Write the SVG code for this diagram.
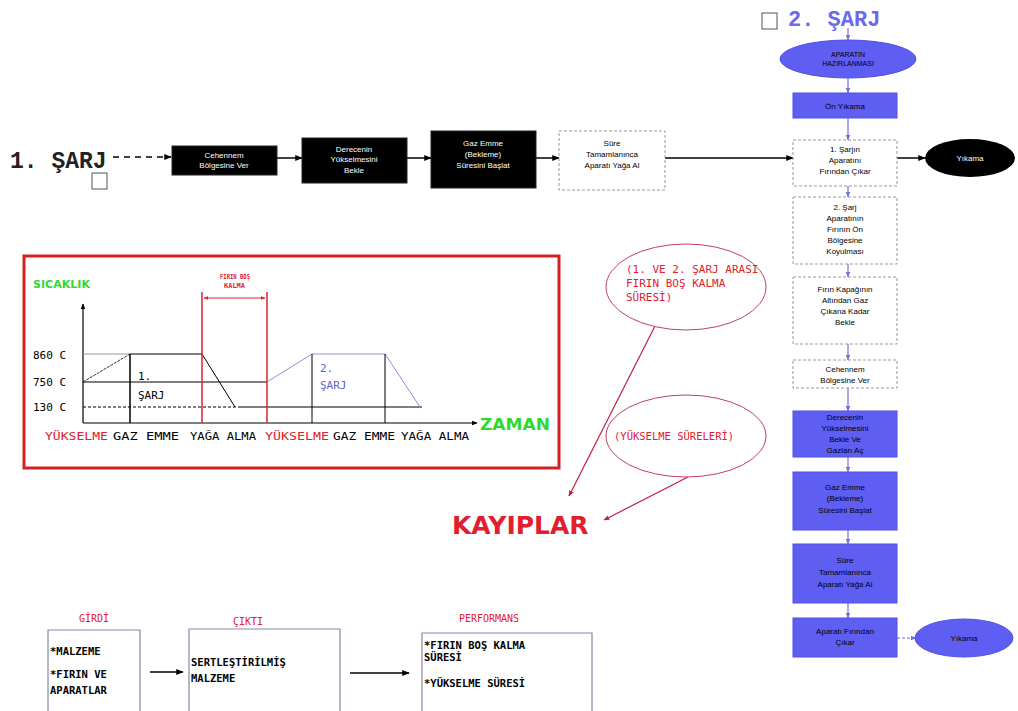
<svg xmlns="http://www.w3.org/2000/svg" width="1018" height="711" viewBox="0 0 1018 711">
<defs>
<marker id="ah" viewBox="0 0 10 10" refX="9" refY="5" markerWidth="5" markerHeight="5" orient="auto"><path d="M0,1 L10,5 L0,9 z" fill="#000"/></marker>
<marker id="ahb" viewBox="0 0 10 10" refX="9" refY="5" markerWidth="5" markerHeight="5" orient="auto"><path d="M0,1 L10,5 L0,9 z" fill="#7070e0"/></marker>
<marker id="ahr" viewBox="0 0 10 10" refX="9" refY="5" markerWidth="5" markerHeight="5" orient="auto"><path d="M0,1 L10,5 L0,9 z" fill="#c02040"/></marker>
<marker id="ahr2" viewBox="0 0 10 10" refX="9" refY="5" markerWidth="4" markerHeight="4" orient="auto-start-reverse"><path d="M0,1 L10,5 L0,9 z" fill="#e02030"/></marker>
</defs>
<style>
.t{font-family:"Liberation Sans",Arial,sans-serif;font-size:8px;text-anchor:middle}
.w{fill:#fff}
.k{fill:#000}
.blk{fill:#000;stroke:#222;stroke-width:1}
.dsh{fill:#fff;stroke:#999;stroke-width:1;stroke-dasharray:3,2}
.blu{fill:#5e5ef2;stroke:#5050e0;stroke-width:1}
.bc{stroke:#7070e0;stroke-width:1.2;fill:none;marker-end:url(#ahb)}
.kc{stroke:#000;stroke-width:1.5;fill:none;marker-end:url(#ah)}
.mono{font-family:"Liberation Mono","DejaVu Sans Mono",monospace;font-weight:bold}
.cl{font-family:"DejaVu Sans Mono",monospace}
.red{fill:#e0202e}
.grn{fill:#30d830}
.sm{font-family:"DejaVu Sans Mono",monospace;font-weight:bold}
.bd{font-family:"DejaVu Sans",sans-serif;font-weight:bold}
</style>
<rect width="1018" height="711" fill="#fff"/>

<g id="title1">
<text x="10" y="168" class="mono" font-size="23" fill="#222">1. ŞARJ</text>
<rect x="92" y="173" width="15" height="16" fill="#fff" stroke="#555" stroke-width="1"/>
</g>
<g id="title2">
<text x="788" y="26" class="mono" font-size="22" fill="#6a6af0">2. ŞARJ</text>
<rect x="762" y="13" width="15" height="16" fill="#fff" stroke="#555" stroke-width="1"/>
</g>

<g id="connectors">
<line x1="113" y1="157" x2="171" y2="157" stroke="#000" stroke-width="1.5" stroke-dasharray="6,5" marker-end="url(#ah)"/>
<line x1="277" y1="158" x2="302" y2="158" class="kc"/>
<line x1="407" y1="158" x2="431" y2="158" class="kc"/>
<line x1="536" y1="158" x2="559" y2="158" class="kc"/>
<line x1="665" y1="158" x2="793" y2="158" class="kc"/>
<line x1="897" y1="158" x2="925" y2="158" class="kc"/>
<line x1="848" y1="28" x2="848" y2="40" class="bc"/>
<line x1="848" y1="78" x2="848" y2="93" class="bc"/>
<line x1="848" y1="118" x2="848" y2="140" class="bc"/>
<line x1="848" y1="186" x2="848" y2="197" class="bc"/>
<line x1="848" y1="264" x2="848" y2="277" class="bc"/>
<line x1="848" y1="344" x2="848" y2="360" class="bc"/>
<line x1="848" y1="388" x2="848" y2="411" class="bc"/>
<line x1="848" y1="457" x2="848" y2="472" class="bc"/>
<line x1="848" y1="530" x2="848" y2="544" class="bc"/>
<line x1="848" y1="603" x2="848" y2="618" class="bc"/>
<line x1="897" y1="638" x2="916" y2="638" stroke="#7070e0" stroke-width="1.2" stroke-dasharray="3,2" marker-end="url(#ahb)"/>
<line x1="655" y1="326" x2="569" y2="496" stroke="#c02040" stroke-width="1.2" marker-end="url(#ahr)"/>
<line x1="688" y1="477" x2="604" y2="520" stroke="#c02040" stroke-width="1.2" marker-end="url(#ahr)"/>
<line x1="150" y1="672" x2="183" y2="672" class="kc" stroke-width="1"/>
<line x1="350" y1="673" x2="409" y2="673" class="kc" stroke-width="1"/>
</g>

<g id="n1"><rect x="172" y="146" width="105" height="29" class="blk"/>
<text class="t w" x="224" y="158">Cehennem</text><text class="t w" x="224" y="168">Bölgesine Ver</text></g>
<g id="n2"><rect x="302" y="138" width="105" height="45" class="blk"/>
<text class="t w" x="354" y="152">Derecenin</text><text class="t w" x="354" y="162">Yükselmesini</text><text class="t w" x="354" y="173">Bekle</text></g>
<g id="n3"><rect x="431" y="131" width="105" height="57" class="blk"/>
<text class="t w" x="483" y="146">Gaz Emme</text><text class="t w" x="483" y="157">(Bekleme)</text><text class="t w" x="483" y="168">Süresini Başlat</text></g>
<g id="n4"><rect x="559" y="131" width="106" height="59" class="dsh"/>
<text class="t k" x="612" y="146">Süre</text><text class="t k" x="612" y="157">Tamamlanınca</text><text class="t k" x="612" y="168">Aparatı Yağa Al</text></g>

<g id="r0"><ellipse cx="848" cy="59" rx="68" ry="19" fill="#5e5ef2" stroke="#5050e0"/>
<text class="t k" x="848" y="57" style="font-size:7px">APARATIN</text><text class="t k" x="848" y="66" style="font-size:7px">HAZIRLANMASI</text></g>
<g id="r1"><rect x="793" y="93" width="104" height="25" class="blu"/>
<text class="t k" x="845" y="109">Ön Yıkama</text></g>
<g id="r2"><rect x="793" y="140" width="104" height="46" class="dsh"/>
<text class="t k" x="845" y="152">1. Şarjın</text><text class="t k" x="845" y="163">Aparatını</text><text class="t k" x="845" y="174">Fırından Çıkar</text></g>
<g id="r2b"><ellipse cx="970" cy="158" rx="45" ry="19" fill="#000"/>
<text class="t w" x="970" y="161">Yıkama</text></g>
<g id="r3"><rect x="793" y="197" width="104" height="67" class="dsh"/>
<text class="t k" x="845" y="210">2. Şarj</text><text class="t k" x="845" y="221">Aparatının</text><text class="t k" x="845" y="232">Fırının Ön</text><text class="t k" x="845" y="243">Bölgesine</text><text class="t k" x="845" y="254">Koyulması</text></g>
<g id="r4"><rect x="793" y="277" width="104" height="67" class="dsh"/>
<text class="t k" x="845" y="292">Fırın Kapağının</text><text class="t k" x="845" y="303">Altından Gaz</text><text class="t k" x="845" y="314">Çıkana Kadar</text><text class="t k" x="845" y="325">Bekle</text></g>
<g id="r5"><rect x="793" y="360" width="104" height="28" class="dsh"/>
<text class="t k" x="845" y="372">Cehennem</text><text class="t k" x="845" y="383">Bölgesine Ver</text></g>
<g id="r6"><rect x="793" y="411" width="104" height="46" class="blu"/>
<text class="t k" x="845" y="420">Derecenin</text><text class="t k" x="845" y="431">Yükselmesini</text><text class="t k" x="845" y="442">Bekle Ve</text><text class="t k" x="845" y="453">Gazları Aç</text></g>
<g id="r7"><rect x="793" y="472" width="104" height="58" class="blu"/>
<text class="t k" x="845" y="490">Gaz Emme</text><text class="t k" x="845" y="501">(Bekleme)</text><text class="t k" x="845" y="513">Süresini Başlat</text></g>
<g id="r8"><rect x="793" y="544" width="104" height="59" class="blu"/>
<text class="t k" x="845" y="563">Süre</text><text class="t k" x="845" y="575">Tamamlanınca</text><text class="t k" x="845" y="587">Aparatı Yağa Al</text></g>
<g id="r9"><rect x="793" y="618" width="104" height="39" class="blu"/>
<text class="t k" x="845" y="634">Aparatı Fırından</text><text class="t k" x="845" y="645">Çıkar</text></g>
<g id="r9b"><ellipse cx="964" cy="638" rx="49" ry="19" fill="#5e5ef2" stroke="#5050e0"/>
<text class="t k" x="964" y="641">Yıkama</text></g>

<g id="chart">
<rect x="24" y="256" width="535" height="212" fill="#fff" stroke="#d42020" stroke-width="3"/>
<text x="33" y="288" class="bd grn" font-size="11" textLength="57" lengthAdjust="spacingAndGlyphs">SICAKLIK</text>
<line x1="83" y1="423" x2="83" y2="304" stroke="#000" stroke-width="1.2" marker-end="url(#ah)"/>
<line x1="83" y1="423" x2="477" y2="423" stroke="#000" stroke-width="1.2" marker-end="url(#ah)"/>
<text x="480" y="430" class="bd grn" font-size="15" textLength="70" lengthAdjust="spacingAndGlyphs">ZAMAN</text>
<text x="33" y="359" class="cl" font-size="11">860 C</text>
<text x="33" y="386" class="cl" font-size="11">750 C</text>
<text x="33" y="411" class="cl" font-size="11">130 C</text>
<line x1="83" y1="354" x2="130" y2="354" stroke="#999" stroke-width="1"/>
<line x1="130" y1="354" x2="202" y2="354" stroke="#000" stroke-width="1"/>
<line x1="83" y1="382" x2="130" y2="354" stroke="#333" stroke-width="1" stroke-dasharray="3,1"/>
<line x1="130" y1="354" x2="130" y2="423" stroke="#000" stroke-width="1.5"/>
<line x1="202" y1="354" x2="235" y2="407" stroke="#000" stroke-width="1"/>
<line x1="83" y1="382" x2="267" y2="382" stroke="#000" stroke-width="1"/>
<line x1="83" y1="407" x2="240" y2="407" stroke="#000" stroke-width="1" stroke-dasharray="3,2"/>
<line x1="240" y1="407" x2="422" y2="407" stroke="#000" stroke-width="1"/>
<text x="138" y="380" class="cl" font-size="11">1.</text>
<text x="138" y="399" class="cl" font-size="11">ŞARJ</text>
<line x1="202" y1="292" x2="202" y2="423" stroke="#e02030" stroke-width="1.5"/>
<line x1="267" y1="292" x2="267" y2="423" stroke="#e02030" stroke-width="1.5"/>
<line x1="204" y1="298" x2="265" y2="298" stroke="#e02030" stroke-width="1.2" marker-start="url(#ahr2)" marker-end="url(#ahr2)"/>
<text x="220" y="279" class="sm red" font-size="7" textLength="30" lengthAdjust="spacingAndGlyphs">FIRIN BOŞ</text>
<text x="224" y="288" class="sm red" font-size="7" textLength="21" lengthAdjust="spacingAndGlyphs">KALMA</text>
<line x1="267" y1="382" x2="312" y2="354" stroke="#9090d8" stroke-width="1"/>
<line x1="312" y1="354" x2="385" y2="354" stroke="#9090d8" stroke-width="1"/>
<line x1="385" y1="354" x2="420" y2="407" stroke="#9090d8" stroke-width="1"/>
<line x1="312" y1="354" x2="312" y2="423" stroke="#000" stroke-width="1"/>
<line x1="385" y1="354" x2="385" y2="423" stroke="#000" stroke-width="1"/>
<text x="320" y="372" class="cl" font-size="11" fill="#6060d0">2.</text>
<text x="320" y="389" class="cl" font-size="11" fill="#6060d0">ŞARJ</text>
<text x="45" y="440" class="cl red" font-size="10" textLength="63" lengthAdjust="spacingAndGlyphs">YÜKSELME</text>
<text x="113" y="440" class="cl" font-size="10" textLength="66" lengthAdjust="spacingAndGlyphs">GAZ EMME</text>
<text x="190" y="440" class="cl" font-size="10" textLength="66" lengthAdjust="spacingAndGlyphs">YAĞA ALMA</text>
<text x="265" y="440" class="cl red" font-size="10" textLength="64" lengthAdjust="spacingAndGlyphs">YÜKSELME</text>
<text x="333" y="440" class="cl" font-size="10" textLength="62" lengthAdjust="spacingAndGlyphs">GAZ EMME</text>
<text x="401" y="440" class="cl" font-size="10" textLength="68" lengthAdjust="spacingAndGlyphs">YAĞA ALMA</text>
</g>

<g id="e1"><ellipse cx="686" cy="287" rx="80" ry="43" fill="#fff" stroke="#c04060" stroke-width="1"/>
<text x="626" y="273" class="cl red" font-size="11">(1. VE 2. ŞARJ ARASI</text>
<text x="626" y="287" class="cl red" font-size="11">FIRIN BOŞ KALMA</text>
<text x="626" y="301" class="cl red" font-size="11">SÜRESİ)</text></g>
<g id="e2"><ellipse cx="686" cy="436" rx="80" ry="41" fill="#fff" stroke="#c04060" stroke-width="1"/>
<text x="614" y="440" class="cl red" font-size="10.5">(YÜKSELME SÜRELERİ)</text></g>

<g id="kayip"><text x="452" y="534" class="bd" font-size="25" fill="#e0202e">KAYIPLAR</text></g>

<g id="girdi">
<text x="94" y="622" class="cl red" font-size="10" text-anchor="middle">GİRDİ</text>
<path d="M48,711 V630 H140 V711" fill="none" stroke="#8888aa" stroke-width="1.2"/>
<text x="50" y="655" class="sm" font-size="10.5">*MALZEME</text>
<text x="50" y="678" class="sm" font-size="10.5">*FIRIN VE</text>
<text x="50" y="694" class="sm" font-size="10.5">APARATLAR</text>
</g>
<g id="cikti">
<text x="248" y="625" class="cl red" font-size="10" text-anchor="middle">ÇIKTI</text>
<path d="M189,711 V629 H340 V711" fill="none" stroke="#8888aa" stroke-width="1.2"/>
<text x="191" y="666" class="sm" font-size="10.5">SERTLEŞTİRİLMİŞ</text>
<text x="191" y="682" class="sm" font-size="10.5">MALZEME</text>
</g>
<g id="perf">
<text x="489" y="622" class="cl red" font-size="10" text-anchor="middle">PERFORMANS</text>
<path d="M422,711 V633 H592 V711" fill="none" stroke="#8888aa" stroke-width="1.2"/>
<text x="424" y="649" class="sm" font-size="10.5">*FIRIN BOŞ KALMA</text>
<text x="424" y="661" class="sm" font-size="10.5">SÜRESİ</text>
<text x="424" y="687" class="sm" font-size="10.5">*YÜKSELME SÜRESİ</text>
</g>
</svg>
